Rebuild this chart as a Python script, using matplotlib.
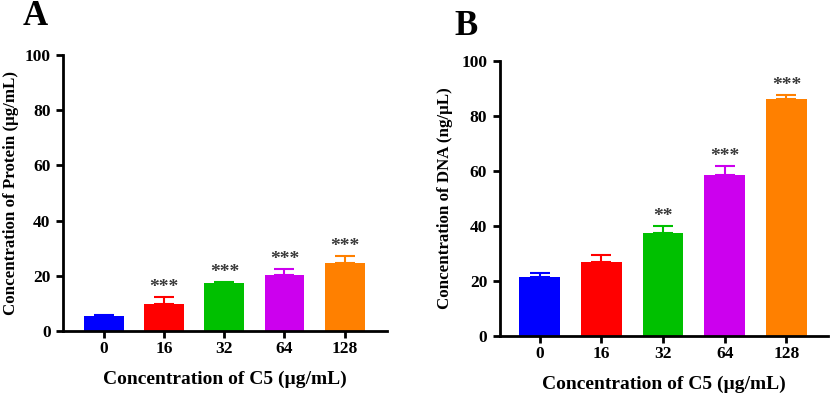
import matplotlib
matplotlib.use("Agg")
import matplotlib.pyplot as plt

# data
doses = ["0", "16", "32", "64", "128"]
bar_colors = ["#0000FF", "#FF0000", "#00C000", "#CC00EE", "#FF8000"]

protein = [5.3, 9.6, 17.3, 20.3, 24.5]
protein_err = [0.6, 2.6, 0.6, 2.2, 2.6]
protein_sig = ["", "***", "***", "***", "***"]

dna = [21.5, 26.8, 37.4, 58.5, 86.0]
dna_err = [1.5, 2.7, 2.6, 3.4, 1.6]
dna_sig = ["", "", "**", "***", "***"]

plt.rcParams["font.family"] = ["Liberation Serif", "DejaVu Serif"]
plt.rcParams["font.weight"] = "bold"

fig = plt.figure(figsize=(8.3, 3.93), dpi=100)
ax_a = fig.add_axes([0.076, 0.158, 0.390, 0.702])
ax_b = fig.add_axes([0.602, 0.145, 0.396, 0.700])


def draw_panel(ax, vals, errs, sig, ylabel, xlim, ypad):
    x = list(range(len(doses)))
    ax.bar(x, vals, width=0.66, color=bar_colors, zorder=2)
    for i in x:
        ax.errorbar(i, vals[i], yerr=[[0], [errs[i]]], fmt="none",
                    ecolor=bar_colors[i], elinewidth=1.5, capsize=7,
                    capthick=1.5, zorder=1)
        if sig[i]:
            ax.text(i, vals[i] + errs[i] + 0.3, sig[i], ha="center",
                    va="bottom", fontsize=14, color="#3a3a3a")
    ax.set_ylim(0, 100)
    ax.set_xlim(*xlim)
    ax.set_yticks([0, 20, 40, 60, 80, 100])
    ax.set_xticks(x)
    ax.set_xticklabels(doses)
    for s in ["top", "right"]:
        ax.spines[s].set_visible(False)
    for s in ["left", "bottom"]:
        ax.spines[s].set_linewidth(2)
    ax.tick_params(width=2, length=5, labelsize=12.5, pad=4)
    ax.tick_params(axis="x", pad=2)
    for lab in ax.get_xticklabels() + ax.get_yticklabels():
        lab.set_fontweight("bold")
    ax.set_ylabel(ylabel, fontsize=12.2, fontweight="bold", labelpad=ypad)
    ax.set_xlabel("Concentration of C5 (µg/mL)", fontsize=14,
                  fontweight="bold", labelpad=10)


draw_panel(ax_a, protein, protein_err, protein_sig,
           "Concentration of Protein (µg/mL)", (-0.68, 4.7), 4)
draw_panel(ax_b, dna, dna_err, dna_sig,
           "Concentration of DNA (ng/µL)", (-0.65, 4.68), 6)

fig.text(0.027, 1.0, "A", fontsize=25, fontweight="bold", va="top")
fig.text(0.547, 0.975, "B", fontsize=25, fontweight="bold", va="top")

fig.savefig("out.png", dpi=100)
